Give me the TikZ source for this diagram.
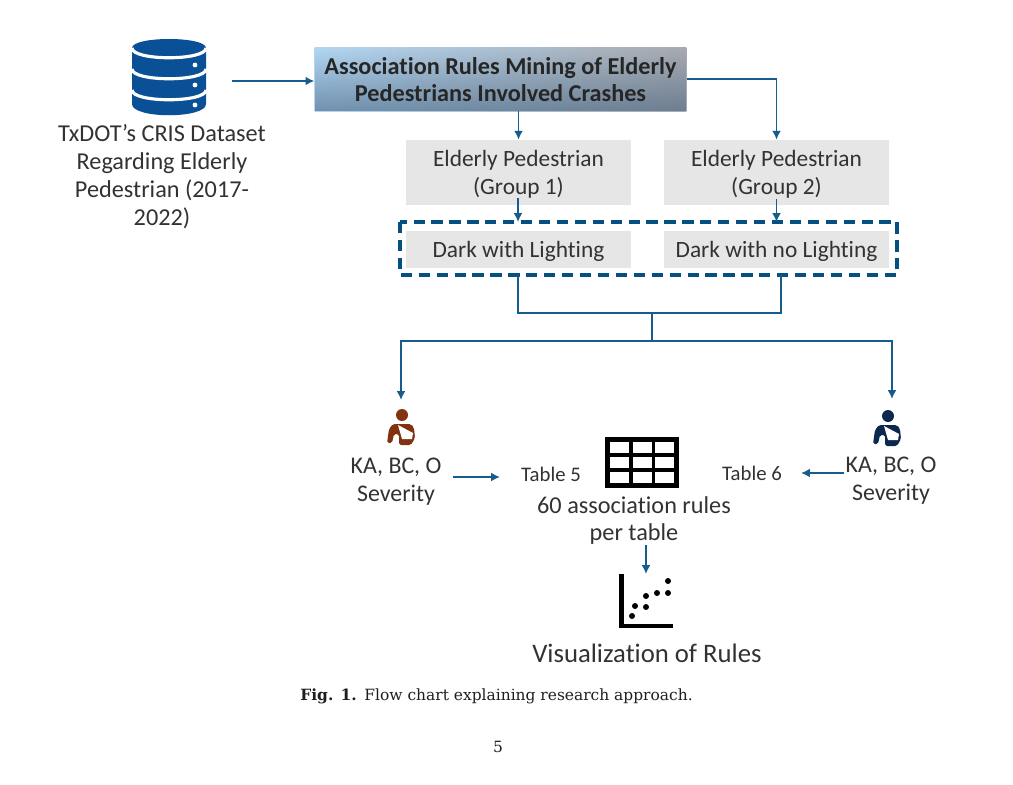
\documentclass[tikz,border=0pt]{standalone}
\usepackage{fontspec}
\setmainfont[Ligatures=NoCommon]{Carlito}
\newfontfamily\capfont{DejaVu Serif}
\usetikzlibrary{positioning,arrows.meta,fadings}
\definecolor{flowblue}{RGB}{22,92,140}
\definecolor{dashblue}{RGB}{5,80,130}
\definecolor{dbblue}{RGB}{10,80,150}
\definecolor{boxgray}{RGB}{230,230,230}
\definecolor{capgray}{RGB}{30,30,30}
\definecolor{txtgray}{RGB}{50,50,50}
\definecolor{rustbrown}{RGB}{130,50,15}
\definecolor{navyman}{RGB}{12,40,80}
\definecolor{titledark}{RGB}{60,90,120}
\definecolor{titlegray}{RGB}{168,170,176}
\definecolor{titlelight}{RGB}{178,214,242}
\tikzset{
  flow/.style={draw=flowblue,line width=1.1pt,-{Latex[length=5pt,width=5pt]}},
  flowline/.style={draw=flowblue,line width=1.1pt},
  graybox/.style={fill=boxgray,minimum width=128pt,align=center,font=\fontsize{13.3}{15.9}\selectfont,text=txtgray,inner sep=0pt,text depth=0pt},
  label/.style={align=center,font=\fontsize{13.8}{15.9}\selectfont,text=txtgray,inner sep=0pt},
  sevlabel/.style={align=center,font=\fontsize{13.6}{15.9}\selectfont,text=txtgray,inner sep=0pt},
  smalllabel/.style={font=\fontsize{11.8}{13}\selectfont,text=txtgray,inner sep=0pt},
  capstyle/.style={inner sep=0pt,text=capgray,font=\capfont\fontsize{8.8}{11}\selectfont},
  titlebox/.style={minimum width=211.5pt,minimum height=36pt,inner sep=0pt,align=center,
    font=\bfseries\fontsize{13.8}{15.9}\selectfont,text=black!85,text depth=0pt,
    preaction={left color=titlelight,right color=titlegray},
    preaction={fill=titledark,fill opacity=0.55,path fading=north}},
}
\begin{document}
\begin{tikzpicture}[x=0.02cm,y=-0.02cm]
  \useasboundingbox (0,0) rectangle (1013,784);

  % dataset icon
  \fill[dbblue] (132,48) .. controls (132,36) and (206,36) .. (206,48) -- (206,104)
    .. controls (206,119) and (132,119) .. (132,104) -- cycle;
  \foreach \cy in {48,69,90} {
    \draw[white,line width=1.8pt] (132,\cy) .. controls (132,\cy+13) and (206,\cy+13) .. (206,\cy);
  }
  \foreach \cy in {65,85,105} { \fill[white] (195,\cy) circle (2.4); }
  \coordinate (dbout) at (232,81);

  \node[label] (crisnode) at (162,176.5) {TxDOT's CRIS Dataset\\Regarding Elderly\\Pedestrian (2017-\\2022)};

  % title box
  \node[titlebox] (titlenode) at (500.5,79.5) {Association Rules Mining of Elderly\\Pedestrians Involved Crashes};

  % groups
  \node[graybox,minimum height=37pt] (groupa) at (518.5,172.5) {Elderly Pedestrian\\(Group 1)};
  \node[graybox,minimum height=37pt] (groupb) at (776.5,172.5) {Elderly Pedestrian\\(Group 2)};
  \node[graybox,minimum height=21.5pt] (lightnode) at (518.5,249.5) {Dark with Lighting};
  \node[graybox,minimum height=21.5pt] (nolightnode) at (776.5,249.5) {Dark with no Lighting};
  \draw[draw=dashblue,line width=2.1pt,dash pattern=on 6.4pt off 3.8pt] (400,222) rectangle (897,275);
  \coordinate (dashtopa) at (518,222);
  \coordinate (dashtopb) at (776.5,222);
  \coordinate (dashbota) at (518,275);
  \coordinate (dashbotb) at (781,275);

  % connectors
  \draw[flow] (dbout) -- (titlenode.west |- dbout);
  \draw[flow] (titlenode.south -| groupa) -- (groupa.north);
  \draw[flow] (titlenode.east |- 0,79) -| (groupb.north);
  \coordinate (groupaout) at (518,198);
  \coordinate (groupbout) at (776.5,199);
  \draw[flow] (groupaout) -- (dashtopa);
  \draw[flow] (groupbout) -- (dashtopb);
  \coordinate (joinnode) at (652,313);
  \coordinate (splitnode) at (652,341);
  \draw[flowline] (dashbota) |- (joinnode) -| (dashbotb);
  \draw[flowline] (joinnode) -- (splitnode);
  \draw[flow] (splitnode) -| (401,400);
  \draw[flow] (splitnode) -| (892,399);

  % severity icons
  \foreach \ox/\oy/\col in {402/415/rustbrown,888/416/navyman} {
    \begin{scope}[shift={(\ox,\oy)}]
      \fill[\col] (0,0) circle (6);
      \fill[\col,rounded corners=1pt] (-15,28) -- (-13,14) -- (-9,9) -- (9,9) -- (12,13) -- (13,23) -- (9,30)
        -- (-3,30) -- (-3,19) -- (-8,19) -- (-10,28) -- cycle;
      \fill[white] (-4,10) -- (11,18) -- (10,24) -- (0,24) -- cycle;
    \end{scope}
  }

  \node[sevlabel] (sevleft) at (396,481.5) {KA, BC, O\\Severity};
  \node[sevlabel] (sevright) at (891,481) {KA, BC, O\\Severity};
  \node[smalllabel] (tablefive) at (551,474) {Table 5};
  \node[smalllabel] (tablesix) at (752,473) {Table 6};
  \coordinate (sevleftout) at (453,477);
  \coordinate (sevrightout) at (844,473);
  \draw[flow] (sevleftout) -- (500,477);
  \draw[flow] (sevrightout) -- (801,473);

  % table icon
  \fill[black] (605,437) rectangle (679,488);
  \foreach \cx in {610,633,655} \foreach \cy in {442,457,472}
    \fill[white] (\cx,\cy) rectangle ++(19,11);

  \node[label] (rulesnode) at (634,520.5) {60 association rules\\per table};
  \coordinate (rulesout) at (646,545);
  \coordinate (plotin) at (646,574);
  \draw[flow] (rulesout) -- (plotin);

  % scatter icon
  \draw[black,line width=2.6pt] (621.5,574) -- (621.5,626) -- (673,626);
  \foreach \px/\py in {632/616,635/606,646/607,646/596,657/593,668/581,668/593}
    \fill[black] (\px,\py) circle (3);

  \node[font=\fontsize{15.2}{17}\selectfont,text=txtgray,inner sep=0pt] (visnode) at (647,653.5) {Visualization of Rules};

  % caption
  \node[capstyle,anchor=west] (capnode) at (300,696) {\textbf{Fig. 1.}\hspace{0.5em}Flow chart explaining research approach.};
  \node[capstyle] (pagenode) at (498,747) {5};
\end{tikzpicture}
\end{document}
